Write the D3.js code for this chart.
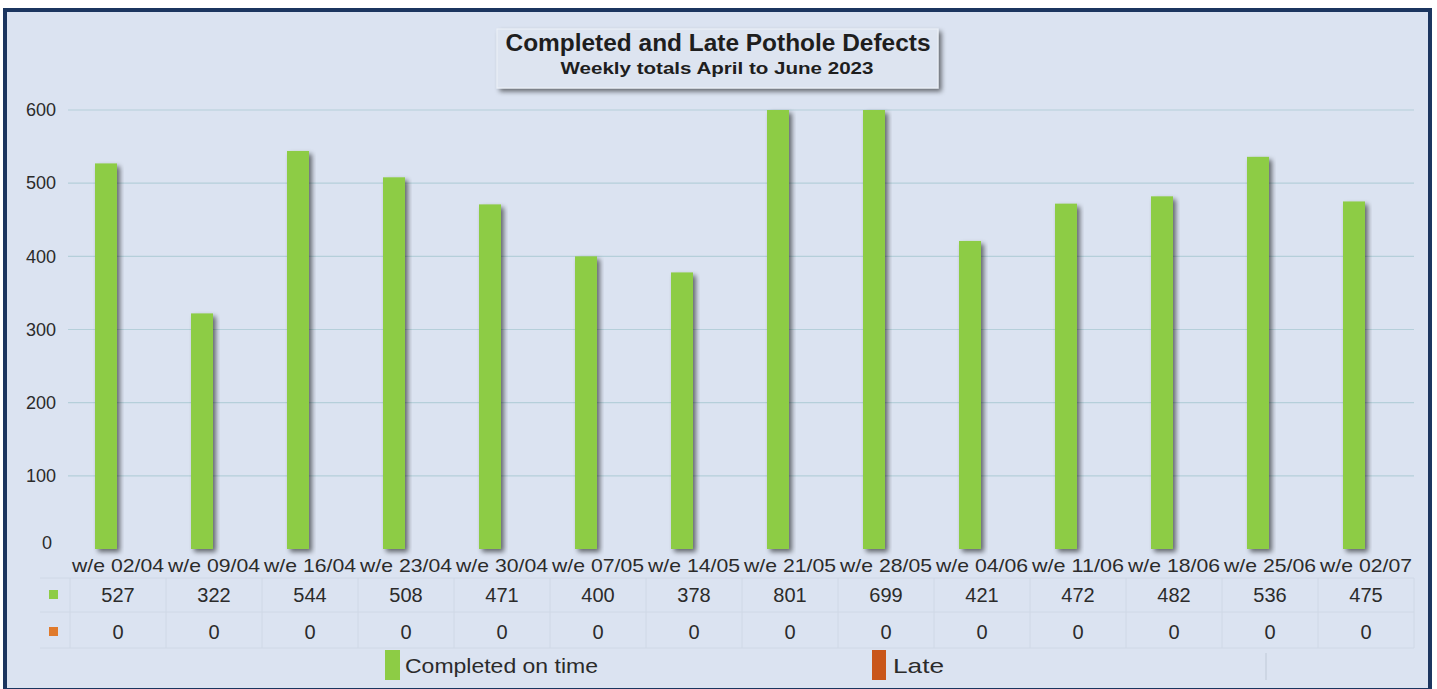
<!DOCTYPE html>
<html>
<head>
<meta charset="utf-8">
<script src="https://cdn.jsdelivr.net/npm/d3@7"></script>
<style>
  body { margin: 0; background: #ffffff; }
  svg { display: block; }
</style>
</head>
<body>
<script>
// data
const weeks = ["w/e 02/04", "w/e 09/04", "w/e 16/04", "w/e 23/04", "w/e 30/04", "w/e 07/05", "w/e 14/05",
  "w/e 21/05", "w/e 28/05", "w/e 04/06", "w/e 11/06", "w/e 18/06", "w/e 25/06", "w/e 02/07"];
const completedOnTime = [527, 322, 544, 508, 471, 400, 378, 801, 699, 421, 472, 482, 536, 475];
const late = [0, 0, 0, 0, 0, 0, 0, 0, 0, 0, 0, 0, 0, 0];
const seriesNames = ["Completed on time", "Late"];
const yTicks = [0, 100, 200, 300, 400, 500, 600];

const W = 1437, H = 689;
const green = "#8dcc45", orange = "#e07a2c", lateLegend = "#c9561a";
const txtCol = "#2b2b2b";
const font = "Liberation Sans, Arial, sans-serif";

const svg = d3.select("body").append("svg")
  .attr("width", W)
  .attr("height", H);

// frame
svg.append("rect")
  .attr("x", 0).attr("y", 0).attr("width", W).attr("height", H)
  .attr("fill", "#ffffff");
svg.append("rect")
  .attr("x", 5).attr("y", 10).attr("width", 1425).attr("height", 680)
  .attr("fill", "#dbe3f1")
  .attr("stroke", "#1b355f")
  .attr("stroke-width", 4);

const defs = svg.append("defs");
const f = defs.append("filter").attr("id", "shadow")
  .attr("x", "-20%").attr("y", "-20%").attr("width", "150%").attr("height", "150%");
f.append("feGaussianBlur").attr("in", "SourceAlpha").attr("stdDeviation", 2.5);
f.append("feOffset").attr("dx", 3).attr("dy", 3).attr("result", "b");
f.append("feComponentTransfer").append("feFuncA").attr("type", "linear").attr("slope", 0.55);
const fm = f.append("feMerge");
fm.append("feMergeNode");
fm.append("feMergeNode").attr("in", "SourceGraphic");

const plotLeft = 70, plotRight = 1414, plotTop = 110, plotBase = 549;

const x0 = d3.scaleBand().domain(weeks).range([plotLeft, plotRight]).paddingInner(0).paddingOuter(0);
const x1 = d3.scaleBand().domain(seriesNames).range([x0.bandwidth() / 2 - 23, x0.bandwidth() / 2 + 23]);
const y = d3.scaleLinear().domain([0, 600]).range([plotBase, plotTop]).clamp(true);

// gridlines
svg.append("g")
  .selectAll("line")
  .data(yTicks.filter(d => d > 0))
  .join("line")
  .attr("x1", plotLeft - 2).attr("x2", plotRight)
  .attr("y1", d => y(d)).attr("y2", d => y(d))
  .attr("stroke", "#b5cfda")
  .attr("stroke-width", 1.2);

// y axis labels
const yAxis = svg.append("g")
  .attr("transform", `translate(${plotLeft - 14},0)`)
  .call(d3.axisLeft(y).tickValues(yTicks).tickSize(0).tickPadding(0));
yAxis.select(".domain").remove();
yAxis.selectAll("text")
  .attr("font-family", font)
  .attr("font-size", 18)
  .attr("fill", txtCol);
yAxis.selectAll(".tick").filter(d => d === 0).select("text")
  .attr("dy", "-0.05em").attr("dx", -4);

// bars
const groups = svg.append("g")
  .selectAll("g")
  .data(weeks.map((w, i) => ({ w, vals: [completedOnTime[i], late[i]] })))
  .join("g")
  .attr("transform", d => `translate(${x0(d.w)},0)`);

groups.selectAll("rect")
  .data(d => d.vals.map((v, j) => ({ s: seriesNames[j], v })))
  .join("rect")
  .filter(d => d.v > 0)
  .attr("x", d => x1(d.s))
  .attr("y", d => y(d.v))
  .attr("width", x1.bandwidth() - 1)
  .attr("height", d => plotBase - y(d.v))
  .attr("fill", d => d.s === "Late" ? orange : green)
  .attr("filter", "url(#shadow)");

// category labels
svg.append("g")
  .selectAll("text")
  .data(weeks)
  .join("text")
  .attr("x", d => x0(d) + x0.bandwidth() / 2)
  .attr("y", 572)
  .attr("text-anchor", "middle")
  .attr("font-family", font)
  .attr("font-size", 18.5)
  .attr("textLength", 92)
  .attr("lengthAdjust", "spacingAndGlyphs")
  .attr("fill", txtCol)
  .text(d => d);

// data table
const rowY = [595, 632];
const table = svg.append("g");
table.selectAll("line.h")
  .data([578, 612, 648])
  .join("line")
  .attr("x1", 40).attr("x2", plotRight)
  .attr("y1", d => d).attr("y2", d => d)
  .attr("stroke", "#cfd8e6").attr("stroke-width", 1);
table.selectAll("line.v")
  .data([plotLeft].concat(weeks.map(w => x0(w) + x0.bandwidth())))
  .join("line")
  .attr("x1", d => d).attr("x2", d => d)
  .attr("y1", 578).attr("y2", 648)
  .attr("stroke", "#cfd8e6").attr("stroke-width", 1);

[completedOnTime, late].forEach((vals, r) => {
  table.append("rect")
    .attr("x", 49).attr("y", rowY[r] - 5)
    .attr("width", 9).attr("height", 9)
    .attr("fill", r === 0 ? green : orange);
  table.append("g")
    .selectAll("text")
    .data(vals)
    .join("text")
    .attr("x", (d, i) => x0(weeks[i]) + x0.bandwidth() / 2)
    .attr("y", rowY[r] + 7)
    .attr("text-anchor", "middle")
    .attr("font-family", font)
    .attr("font-size", 20)
    .attr("fill", txtCol)
    .text(d => d);
});

// legend
const legend = svg.append("g");
legend.append("rect").attr("x", 385).attr("y", 650).attr("width", 15).attr("height", 30).attr("fill", green);
legend.append("text").attr("x", 405).attr("y", 673)
  .attr("font-family", font).attr("font-size", 21)
  .attr("textLength", 193).attr("lengthAdjust", "spacingAndGlyphs")
  .attr("fill", txtCol).text(seriesNames[0]);
legend.append("rect").attr("x", 872).attr("y", 650).attr("width", 14).attr("height", 30).attr("fill", lateLegend);
legend.append("text").attr("x", 893).attr("y", 673)
  .attr("font-family", font).attr("font-size", 21)
  .attr("textLength", 51).attr("lengthAdjust", "spacingAndGlyphs")
  .attr("fill", txtCol).text(seriesNames[1]);
legend.append("line").attr("x1", 1266).attr("x2", 1266).attr("y1", 653).attr("y2", 680)
  .attr("stroke", "#c9d2df").attr("stroke-width", 1.5);

// title box
svg.append("rect")
  .attr("x", 497).attr("y", 29).attr("width", 441).attr("height", 59)
  .attr("fill", "#dde4f0")
  .attr("stroke", "#eef2f8").attr("stroke-width", 1)
  .attr("filter", "url(#shadow)");
svg.append("text")
  .attr("x", 718).attr("y", 51)
  .attr("text-anchor", "middle")
  .attr("font-family", font)
  .attr("font-weight", "bold").attr("font-size", 23)
  .attr("textLength", 425).attr("lengthAdjust", "spacingAndGlyphs")
  .attr("fill", "#1e1e1e")
  .text("Completed and Late Pothole Defects");
svg.append("text")
  .attr("x", 717).attr("y", 74)
  .attr("text-anchor", "middle")
  .attr("font-family", font)
  .attr("font-weight", "bold").attr("font-size", 16.5)
  .attr("textLength", 313).attr("lengthAdjust", "spacingAndGlyphs")
  .attr("fill", "#1e1e1e")
  .text("Weekly totals April to June 2023");
</script>
</body>
</html>
